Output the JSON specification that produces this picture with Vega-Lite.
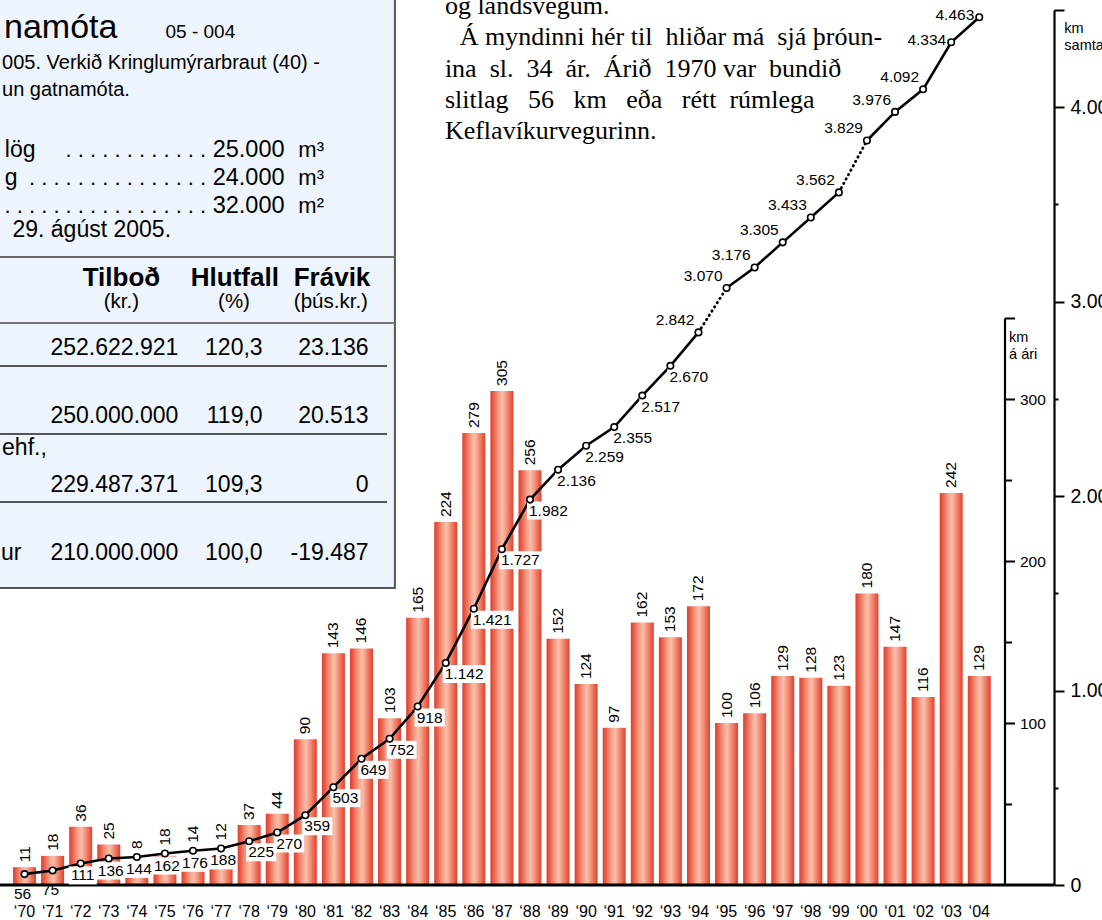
{
  "$schema": "https://vega.github.io/schema/vega-lite/v6.json",
  "width": 1054,
  "height": 885,
  "autosize": {"type": "none"},
  "padding": {"left": 0, "top": 0, "right": 48, "bottom": 35},
  "background": "white",
  "config": {
    "view": {"stroke": null},
    "locale": {"number": {"decimal": ",", "thousands": ".", "grouping": [3], "currency": ["", ""]}},
    "font": "Liberation Sans",
    "text": {"font": "Liberation Sans", "color": "black"}
  },
  "data": {"values": [
    {"year": 1970, "annual": 11, "cum": 56},
    {"year": 1971, "annual": 18, "cum": 75},
    {"year": 1972, "annual": 36, "cum": 111},
    {"year": 1973, "annual": 25, "cum": 136},
    {"year": 1974, "annual": 8, "cum": 144},
    {"year": 1975, "annual": 18, "cum": 162},
    {"year": 1976, "annual": 14, "cum": 176},
    {"year": 1977, "annual": 12, "cum": 188},
    {"year": 1978, "annual": 37, "cum": 225},
    {"year": 1979, "annual": 44, "cum": 270},
    {"year": 1980, "annual": 90, "cum": 359},
    {"year": 1981, "annual": 143, "cum": 503},
    {"year": 1982, "annual": 146, "cum": 649},
    {"year": 1983, "annual": 103, "cum": 752},
    {"year": 1984, "annual": 165, "cum": 918},
    {"year": 1985, "annual": 224, "cum": 1142},
    {"year": 1986, "annual": 279, "cum": 1421},
    {"year": 1987, "annual": 305, "cum": 1727},
    {"year": 1988, "annual": 256, "cum": 1982},
    {"year": 1989, "annual": 152, "cum": 2136},
    {"year": 1990, "annual": 124, "cum": 2259},
    {"year": 1991, "annual": 97, "cum": 2355},
    {"year": 1992, "annual": 162, "cum": 2517},
    {"year": 1993, "annual": 153, "cum": 2670},
    {"year": 1994, "annual": 172, "cum": 2842},
    {"year": 1995, "annual": 100, "cum": 3070},
    {"year": 1996, "annual": 106, "cum": 3176},
    {"year": 1997, "annual": 129, "cum": 3305},
    {"year": 1998, "annual": 128, "cum": 3433},
    {"year": 1999, "annual": 123, "cum": 3562},
    {"year": 2000, "annual": 180, "cum": 3829},
    {"year": 2001, "annual": 147, "cum": 3976},
    {"year": 2002, "annual": 116, "cum": 4092},
    {"year": 2003, "annual": 242, "cum": 4334},
    {"year": 2004, "annual": 129, "cum": 4463}
  ]},
  "layer": [
    {
      "layer": [
        {
          "mark": {"type": "bar", "width": 23, "stroke": null,
            "fill": {"gradient": "linear", "x1": 0, "y1": 0, "x2": 1, "y2": 0,
              "stops": [
                {"offset": 0, "color": "#E03E2D"},
                {"offset": 0.14, "color": "#E95F4A"},
                {"offset": 0.28, "color": "#F08872"},
                {"offset": 0.44, "color": "#F7AF99"},
                {"offset": 0.54, "color": "#F9BDA9"},
                {"offset": 0.7, "color": "#F3937B"},
                {"offset": 0.86, "color": "#EA6650"},
                {"offset": 1, "color": "#E0412E"}
              ]}},
          "encoding": {
            "x": {"field": "year", "type": "quantitative",
              "scale": {"domain": [1969.305, 2006.483], "nice": false, "zero": false},
              "axis": {"labels": false, "domain": false, "ticks": false, "grid": false, "title": null}},
            "y": {"field": "annual", "type": "quantitative",
              "scale": {"domain": [0, 350], "range": [885, 318], "nice": false, "zero": true},
              "axis": {"orient": "right", "offset": -49.5, "title": null, "grid": false,
                "values": [50, 100, 150, 200, 250, 300, 350],
                "labelExpr": "datum.value % 100 == 0 ? datum.label : ''",
                "domainColor": "black", "domainWidth": 2.2, "tickColor": "black", "tickWidth": 2,
                "tickSize": {"condition": {"test": "datum.value % 100 == 0 || datum.value == 350", "value": 10}, "value": 7},
                "labelFont": "Liberation Sans", "labelFontSize": 15.5, "labelColor": "black",
                "labelPadding": 5, "labelBaseline": "middle"}}
          }
        },
        {
          "transform": [{"filter": "datum.year < 1974 || datum.year > 1977"}],
          "mark": {"type": "text", "angle": 270, "align": "left", "baseline": "middle", "dx": 5, "font": "Liberation Sans", "fontSize": 15.5, "color": "black"},
          "encoding": {
            "x": {"field": "year", "type": "quantitative"},
            "y": {"field": "annual", "type": "quantitative"},
            "text": {"field": "annual", "type": "quantitative"}
          }
        },
        {
          "mark": {"type": "text", "align": "center", "baseline": "alphabetic", "dy": 32, "font": "Liberation Sans", "fontSize": 16, "color": "black",
            "text": {"expr": "'‘' + slice(toString(datum.year), 2)"}},
          "encoding": {
            "x": {"field": "year", "type": "quantitative"},
            "y": {"datum": 0}
          }
        },
        {
          "data": {"values": [{}]},
          "mark": {"type": "rule", "color": "black", "strokeWidth": 3},
          "encoding": {"y": {"datum": 0}}
        }
      ]
    },
    {
      "layer": [
        {
          "transform": [{"filter": "datum.year <= 1994"}],
          "mark": {"type": "line", "color": "black", "strokeWidth": 2.6},
          "encoding": {
            "x": {"field": "year", "type": "quantitative"},
            "y": {"field": "cum", "type": "quantitative",
              "scale": {"domain": [0, 4500], "range": [885, 10], "nice": false, "zero": true},
              "axis": {"orient": "right", "offset": 0, "title": null, "grid": false,
                "values": [0, 500, 1000, 1500, 2000, 2500, 3000, 3500, 4000, 4500],
                "labelExpr": "datum.value % 1000 == 0 ? format(datum.value, ',d') : ''",
                "domainColor": "black", "domainWidth": 2.2, "tickColor": "black", "tickWidth": 2,
                "tickSize": {"condition": {"test": "datum.value % 1000 == 0 || datum.value == 4500", "value": 10}, "value": 4},
                "labelFont": "Liberation Sans", "labelFontSize": 19.5, "labelColor": "black",
                "labelPadding": 6, "labelBaseline": "middle"}}
          }
        },
        {
          "transform": [{"filter": "datum.year >= 1995 && datum.year <= 1999"}],
          "mark": {"type": "line", "color": "black", "strokeWidth": 2.6},
          "encoding": {"x": {"field": "year", "type": "quantitative"}, "y": {"field": "cum", "type": "quantitative"}}
        },
        {
          "transform": [{"filter": "datum.year >= 2000"}],
          "mark": {"type": "line", "color": "black", "strokeWidth": 2.6},
          "encoding": {"x": {"field": "year", "type": "quantitative"}, "y": {"field": "cum", "type": "quantitative"}}
        },
        {
          "transform": [{"filter": "datum.year >= 1994 && datum.year <= 1995"}],
          "mark": {"type": "line", "color": "black", "strokeWidth": 2.8, "strokeDash": [0.5, 4.5], "strokeCap": "round"},
          "encoding": {"x": {"field": "year", "type": "quantitative"}, "y": {"field": "cum", "type": "quantitative"}}
        },
        {
          "transform": [{"filter": "datum.year >= 1999 && datum.year <= 2000"}],
          "mark": {"type": "line", "color": "black", "strokeWidth": 2.8, "strokeDash": [0.5, 4.5], "strokeCap": "round"},
          "encoding": {"x": {"field": "year", "type": "quantitative"}, "y": {"field": "cum", "type": "quantitative"}}
        },
        {
          "transform": [{"filter": "datum.year >= 1974 && datum.year <= 1977"}],
          "mark": {"type": "text", "angle": 270, "align": "left", "baseline": "middle", "dx": 8, "font": "Liberation Sans", "fontSize": 15.5, "color": "black"},
          "encoding": {
            "x": {"field": "year", "type": "quantitative"},
            "y": {"field": "cum", "type": "quantitative"},
            "text": {"field": "annual", "type": "quantitative"}
          }
        },
        {
          "transform": [{"filter": "datum.year >= 1972 && datum.year <= 1977"}],
          "mark": {"type": "point", "filled": true, "fill": "white", "strokeWidth": 0, "size": 4, "opacity": 1, "shape": "M-12,3H16V21H-12Z"},
          "encoding": {"x": {"field": "year", "type": "quantitative"}, "y": {"field": "cum", "type": "quantitative"}}
        },
        {
          "transform": [{"filter": "datum.year >= 1978 && datum.year <= 1993"}],
          "mark": {"type": "point", "filled": true, "fill": "white", "strokeWidth": 0, "size": 4, "opacity": 1},
          "encoding": {
            "x": {"field": "year", "type": "quantitative"},
            "y": {"field": "cum", "type": "quantitative"},
            "shape": {"condition": {"test": "datum.cum >= 1000", "value": "M-3,2H40V20H-3Z"}, "value": "M-3,2H27V20H-3Z"}
          }
        },
        {
          "mark": {"type": "point", "filled": true, "fill": "white", "stroke": "black", "strokeWidth": 1.6, "size": 42, "opacity": 1},
          "encoding": {"x": {"field": "year", "type": "quantitative"}, "y": {"field": "cum", "type": "quantitative"}}
        },
        {
          "transform": [{"filter": "datum.year <= 1971"}],
          "mark": {"type": "text", "align": "center", "baseline": "middle", "dx": -2, "dy": 20, "font": "Liberation Sans", "fontSize": 15.5, "color": "black"},
          "encoding": {"x": {"field": "year", "type": "quantitative"}, "y": {"field": "cum", "type": "quantitative"}, "text": {"field": "cum", "type": "quantitative", "format": ",d"}}
        },
        {
          "transform": [{"filter": "datum.year >= 1972 && datum.year <= 1977"}],
          "mark": {"type": "text", "align": "center", "baseline": "middle", "dx": 2, "dy": 12, "font": "Liberation Sans", "fontSize": 15.5, "color": "black"},
          "encoding": {"x": {"field": "year", "type": "quantitative"}, "y": {"field": "cum", "type": "quantitative"}, "text": {"field": "cum", "type": "quantitative", "format": ",d"}}
        },
        {
          "transform": [{"filter": "datum.year >= 1978 && datum.year <= 1993"}],
          "mark": {"type": "text", "align": "left", "baseline": "middle", "dx": -1, "dy": 11, "font": "Liberation Sans", "fontSize": 15.5, "color": "black"},
          "encoding": {"x": {"field": "year", "type": "quantitative"}, "y": {"field": "cum", "type": "quantitative"}, "text": {"field": "cum", "type": "quantitative", "format": ",d"}}
        },
        {
          "transform": [{"filter": "datum.year >= 1994 && datum.year <= 2002"}],
          "mark": {"type": "text", "align": "right", "baseline": "middle", "dx": -4, "dy": -12, "font": "Liberation Sans", "fontSize": 15.5, "color": "black"},
          "encoding": {"x": {"field": "year", "type": "quantitative"}, "y": {"field": "cum", "type": "quantitative"}, "text": {"field": "cum", "type": "quantitative", "format": ",d"}}
        },
        {
          "transform": [{"filter": "datum.year >= 2003"}],
          "mark": {"type": "text", "align": "right", "baseline": "middle", "dx": -5, "dy": -2, "font": "Liberation Sans", "fontSize": 15.5, "color": "black"},
          "encoding": {"x": {"field": "year", "type": "quantitative"}, "y": {"field": "cum", "type": "quantitative"}, "text": {"field": "cum", "type": "quantitative", "format": ",d"}}
        },
        {
          "data": {"values": [{}]},
          "mark": {"type": "rect", "fill": "#EEF4FB", "stroke": "#555555", "strokeWidth": 2},
          "encoding": {"x": {"datum": 1968.6}, "x2": {"datum": 1983.19}, "y": {"datum": 4705.7}, "y2": {"datum": 1527.4}}
        },
        {
          "data": {"values": [{}]},
          "mark": {"type": "rule", "color": "#666666", "strokeWidth": 2},
          "encoding": {"x": {"datum": 1969.0}, "x2": {"datum": 1983.19}, "y": {"datum": 3229.7}}
        },
        {
          "data": {"values": [{}]},
          "mark": {"type": "rule", "color": "#777777", "strokeWidth": 2},
          "encoding": {"x": {"datum": 1969.0}, "x2": {"datum": 1983.19}, "y": {"datum": 2890.3}}
        },
        {
          "data": {"values": [{}]},
          "mark": {"type": "rule", "color": "#222222", "strokeWidth": 1.3},
          "encoding": {"x": {"datum": 1969.0}, "x2": {"datum": 1982.91}, "y": {"datum": 2669.1}}
        },
        {
          "data": {"values": [{}]},
          "mark": {"type": "rule", "color": "#222222", "strokeWidth": 1.3},
          "encoding": {"x": {"datum": 1969.0}, "x2": {"datum": 1982.91}, "y": {"datum": 2319.4}}
        },
        {
          "data": {"values": [{}]},
          "mark": {"type": "rule", "color": "#222222", "strokeWidth": 1.3},
          "encoding": {"x": {"datum": 1969.0}, "x2": {"datum": 1982.91}, "y": {"datum": 1969.7}}
        },
        {
          "data": {"values": [{}]},
          "mark": {"type": "text", "align": "left", "baseline": "alphabetic", "font": "Liberation Sans", "fontSize": 34, "color": "black"},
          "encoding": {"x": {"datum": 1969.27}, "y": {"datum": 4356}, "text": {"value": "namóta"}}
        },
        {
          "data": {"values": [{}]},
          "mark": {"type": "text", "align": "left", "baseline": "alphabetic", "font": "Liberation Sans", "fontSize": 19, "color": "black"},
          "encoding": {"x": {"datum": 1975.02}, "y": {"datum": 4356}, "text": {"value": "05 - 004"}}
        },
        {
          "data": {"values": [{}]},
          "mark": {"type": "text", "align": "left", "baseline": "alphabetic", "font": "Liberation Sans", "fontSize": 20, "lineHeight": 27, "color": "black"},
          "encoding": {"x": {"datum": 1969.2}, "y": {"datum": 4196.6}, "text": {"value": ["005. Verkið Kringlumýrarbraut (40) -", "un gatnamóta."]}}
        },
        {
          "data": {"values": [{}]},
          "mark": {"type": "text", "align": "left", "baseline": "alphabetic", "font": "Liberation Sans", "fontSize": 23, "lineHeight": 28, "color": "black"},
          "encoding": {"x": {"datum": 1969.3}, "y": {"datum": 3744.0}, "text": {"value": ["lög", "g"]}}
        },
        {
          "data": {"values": [{}]},
          "mark": {"type": "text", "align": "right", "baseline": "alphabetic", "font": "Liberation Sans", "fontSize": 22, "lineHeight": 28, "color": "black"},
          "encoding": {"x": {"datum": 1976.47}, "y": {"datum": 3744.0}, "text": {"value": [". . . . . . . . . . . .", ". . . . . . . . . . . . . . .", ". . . . . . . . . . . . . . . . ."]}}
        },
        {
          "data": {"values": [{}]},
          "mark": {"type": "text", "align": "right", "baseline": "alphabetic", "font": "Liberation Sans", "fontSize": 23.5, "lineHeight": 28, "color": "black"},
          "encoding": {"x": {"datum": 1979.26}, "y": {"datum": 3744.0}, "text": {"value": ["25.000", "24.000", "32.000"]}}
        },
        {
          "data": {"values": [{}]},
          "mark": {"type": "text", "align": "left", "baseline": "alphabetic", "font": "Liberation Sans", "fontSize": 22, "lineHeight": 28, "color": "black"},
          "encoding": {"x": {"datum": 1979.75}, "y": {"datum": 3744.0}, "text": {"value": ["m³", "m³", "m²"]}}
        },
        {
          "data": {"values": [{}]},
          "mark": {"type": "text", "align": "left", "baseline": "alphabetic", "font": "Liberation Sans", "fontSize": 23, "color": "black"},
          "encoding": {"x": {"datum": 1969.57}, "y": {"datum": 3332.6}, "text": {"value": "29. ágúst 2005."}}
        },
        {
          "data": {"values": [{}]},
          "mark": {"type": "text", "align": "center", "baseline": "alphabetic", "font": "Liberation Sans", "fontSize": 26, "fontWeight": "bold", "color": "black"},
          "encoding": {"x": {"datum": 1973.45}, "y": {"datum": 3080.6}, "text": {"value": "Tilboð"}}
        },
        {
          "data": {"values": [{}]},
          "mark": {"type": "text", "align": "center", "baseline": "alphabetic", "font": "Liberation Sans", "fontSize": 26, "fontWeight": "bold", "color": "black"},
          "encoding": {"x": {"datum": 1977.49}, "y": {"datum": 3080.6}, "text": {"value": "Hlutfall"}}
        },
        {
          "data": {"values": [{}]},
          "mark": {"type": "text", "align": "center", "baseline": "alphabetic", "font": "Liberation Sans", "fontSize": 26, "fontWeight": "bold", "color": "black"},
          "encoding": {"x": {"datum": 1980.95}, "y": {"datum": 3080.6}, "text": {"value": "Frávik"}}
        },
        {
          "data": {"values": [{}]},
          "mark": {"type": "text", "align": "center", "baseline": "alphabetic", "font": "Liberation Sans", "fontSize": 20.5, "color": "black"},
          "encoding": {"x": {"datum": 1973.45}, "y": {"datum": 2967.4}, "text": {"value": "(kr.)"}}
        },
        {
          "data": {"values": [{}]},
          "mark": {"type": "text", "align": "center", "baseline": "alphabetic", "font": "Liberation Sans", "fontSize": 20.5, "color": "black"},
          "encoding": {"x": {"datum": 1977.46}, "y": {"datum": 2967.4}, "text": {"value": "(%)"}}
        },
        {
          "data": {"values": [{}]},
          "mark": {"type": "text", "align": "center", "baseline": "alphabetic", "font": "Liberation Sans", "fontSize": 20.5, "color": "black"},
          "encoding": {"x": {"datum": 1980.91}, "y": {"datum": 2967.4}, "text": {"value": "(þús.kr.)"}}
        },
        {
          "data": {"values": [{}]},
          "mark": {"type": "text", "align": "right", "baseline": "alphabetic", "font": "Liberation Sans", "fontSize": 23, "lineHeight": 68.3, "color": "black"},
          "encoding": {"x": {"datum": 1975.48}, "y": {"datum": 2725.7}, "text": {"value": ["252.622.921", "250.000.000", "229.487.371", "210.000.000"]}}
        },
        {
          "data": {"values": [{}]},
          "mark": {"type": "text", "align": "right", "baseline": "alphabetic", "font": "Liberation Sans", "fontSize": 23, "lineHeight": 68.3, "color": "black"},
          "encoding": {"x": {"datum": 1978.48}, "y": {"datum": 2725.7}, "text": {"value": ["120,3", "119,0", "109,3", "100,0"]}}
        },
        {
          "data": {"values": [{}]},
          "mark": {"type": "text", "align": "right", "baseline": "alphabetic", "font": "Liberation Sans", "fontSize": 23, "lineHeight": 68.3, "color": "black"},
          "encoding": {"x": {"datum": 1982.25}, "y": {"datum": 2725.7}, "text": {"value": ["23.136", "20.513", "0", "-19.487"]}}
        },
        {
          "data": {"values": [{}]},
          "mark": {"type": "text", "align": "left", "baseline": "alphabetic", "font": "Liberation Sans", "fontSize": 23, "color": "black"},
          "encoding": {"x": {"datum": 1969.2}, "y": {"datum": 2211.4}, "text": {"value": "ehf.,"}}
        },
        {
          "data": {"values": [{}]},
          "mark": {"type": "text", "align": "left", "baseline": "alphabetic", "font": "Liberation Sans", "fontSize": 23, "color": "black"},
          "encoding": {"x": {"datum": 1969.16}, "y": {"datum": 1671.4}, "text": {"value": "ur"}}
        },
        {
          "data": {"values": [{}]},
          "mark": {"type": "text", "align": "left", "baseline": "alphabetic", "font": "Liberation Serif", "fontSize": 26, "color": "black"},
          "encoding": {"x": {"datum": 1984.97}, "y": {"datum": 4479.4}, "text": {"value": "og landsvegum."}}
        },
        {
          "data": {"values": [{}]},
          "mark": {"type": "text", "align": "left", "baseline": "alphabetic", "font": "Liberation Serif", "fontSize": 26, "color": "black"},
          "encoding": {"x": {"datum": 1985.495}, "y": {"datum": 4318.5}, "text": {"value": "Á myndinni hér til\u00a0 hliðar má\u00a0 sjá þróun-"}}
        },
        {
          "data": {"values": [{}]},
          "mark": {"type": "text", "align": "left", "baseline": "alphabetic", "font": "Liberation Serif", "fontSize": 26, "lineHeight": 31.3, "color": "black"},
          "encoding": {"x": {"datum": 1984.97}, "y": {"datum": 4157.5}, "text": {"value": [
            "ina\u00a0 sl.\u00a0 34\u00a0 ár.\u00a0 Árið\u00a0 1970 var\u00a0 bundið",
            "slitlag\u00a0\u00a0 56\u00a0\u00a0 km\u00a0\u00a0 eða\u00a0\u00a0 rétt\u00a0 rúmlega",
            "Keflavíkurvegurinn."
          ]}}
        },
        {
          "data": {"values": [{}]},
          "mark": {"type": "text", "align": "left", "baseline": "alphabetic", "font": "Liberation Sans", "fontSize": 14.5, "lineHeight": 17, "color": "black"},
          "encoding": {"x": {"datum": 2007.03}, "y": {"datum": 4381.7}, "text": {"value": ["km", "samtals"]}}
        },
        {
          "data": {"values": [{}]},
          "mark": {"type": "text", "align": "left", "baseline": "alphabetic", "font": "Liberation Sans", "fontSize": 14.5, "lineHeight": 17, "color": "black"},
          "encoding": {"x": {"datum": 2005.06}, "y": {"datum": 2792.6}, "text": {"value": ["km", "á ári"]}}
        }
      ]
    }
  ],
  "resolve": {"scale": {"y": "independent"}}
}
